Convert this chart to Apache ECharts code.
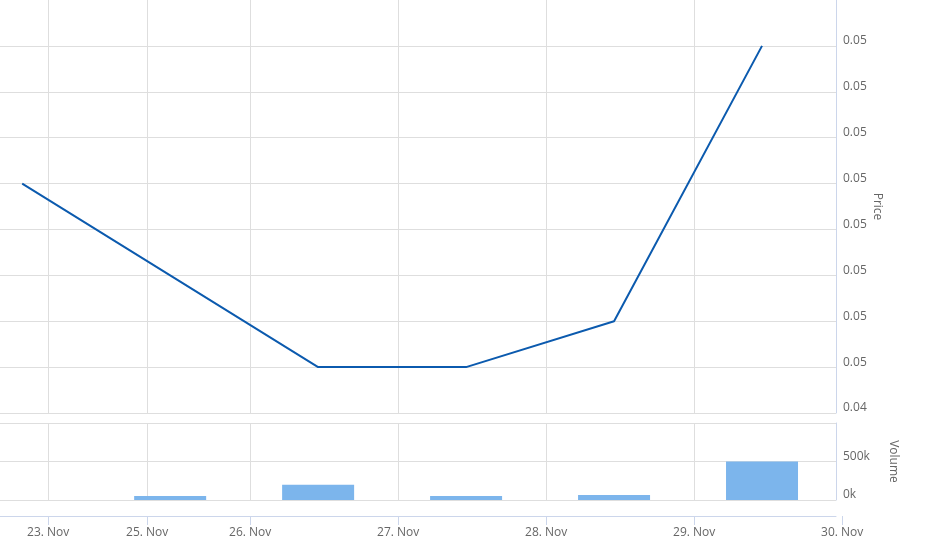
<!DOCTYPE html>
<html>
<head>
<meta charset="utf-8">
<script src="https://cdn.jsdelivr.net/npm/echarts@6/dist/echarts.min.js"></script>
<style>
html,body{margin:0;padding:0;background:#fff;}
#chart{width:928px;height:539px;}
</style>
</head>
<body>
<div id="chart"></div>
<script>
// Ordinal positions (trading-day index) of each data point
var pointIndex = [0, 1, 2, 3, 4, 5];
var priceValues = [0.047, 0.046, 0.045, 0.045, 0.0455, 0.0485];
var volumeValues = [0, 52000, 198000, 52000, 66000, 500000];
// Tick positions on the ordinal axis and their labels
var xTickValues = [0.1757, 0.8446, 1.5405, 2.5405, 3.5405, 4.5405, 5.5405];
var xTickLabels = ['23. Nov', '25. Nov', '26. Nov', '27. Nov', '28. Nov', '29. Nov', '30. Nov'];

var priceData = pointIndex.map(function (x, i) { return [x, priceValues[i]]; });
var volumeData = pointIndex.map(function (x, i) { return [x, volumeValues[i]]; });
var tickLabelMap = {};
xTickValues.forEach(function (v, i) { tickLabelMap[v] = xTickLabels[i]; });

var FONT = 'Open Sans';
var GRID_COLOR = '#dedede';
var AXIS_COLOR = '#ccd6eb';
var TEXT_COLOR = '#666666';
var X_MIN = -0.15, X_MAX = 5.5;

var chart = echarts.init(document.getElementById('chart'), null, {renderer: 'canvas'});
chart.setOption({
  animation: false,
  backgroundColor: '#ffffff',
  textStyle: {fontFamily: FONT},
  grid: [
    {left: 0, width: 836, top: 0, height: 413},
    {left: 0, width: 836, top: 423, height: 77},
    {left: 0, width: 851, top: 423, height: 77}
  ],
  xAxis: [
    {
      type: 'value', gridIndex: 0, min: X_MIN, max: X_MAX,
      axisLine: {show: false, onZero: false}, axisTick: {show: false, customValues: xTickValues},
      axisLabel: {show: false, customValues: xTickValues},
      splitLine: {show: true, lineStyle: {color: GRID_COLOR, width: 1}}
    },
    {
      type: 'value', gridIndex: 1, min: X_MIN, max: X_MAX, offset: 16, position: 'bottom',
      axisLine: {show: true, onZero: false, lineStyle: {color: AXIS_COLOR, width: 1}},
      axisTick: {show: false, customValues: xTickValues},
      axisLabel: {show: false, customValues: xTickValues},
      splitLine: {show: true, lineStyle: {color: GRID_COLOR, width: 1}}
    },
    {
      type: 'value', gridIndex: 2, min: X_MIN, max: 5.6, offset: 16, position: 'bottom',
      axisLine: {show: false, onZero: false},
      axisTick: {show: true, length: 9, customValues: xTickValues, lineStyle: {color: AXIS_COLOR, width: 1}},
      axisLabel: {
        show: true, customValues: xTickValues, margin: 11,
        color: TEXT_COLOR, fontFamily: FONT, fontSize: 12,
        formatter: function (v) { return tickLabelMap[v] || ''; }
      },
      splitLine: {show: false}
    }
  ],
  yAxis: [
    {
      type: 'value', gridIndex: 0, position: 'right',
      min: 0.0445, max: 0.049, interval: 0.0005,
      name: 'Price', nameLocation: 'middle', nameRotate: -90, nameGap: 35, nameMoveOverlap: false,
      nameTextStyle: {color: TEXT_COLOR, fontFamily: FONT, fontSize: 12},
      axisLine: {show: true, onZero: false, lineStyle: {color: AXIS_COLOR, width: 1}},
      axisTick: {show: false},
      axisLabel: {
        color: TEXT_COLOR, fontFamily: FONT, fontSize: 12, margin: 7,
        verticalAlign: 'bottom', showMaxLabel: false, padding: [0, 0, -1, 0],
        formatter: function (v) { return (Math.round(v * 100) / 100).toFixed(2); }
      },
      splitLine: {show: true, showMaxLine: false, lineStyle: {color: GRID_COLOR, width: 1}}
    },
    {
      type: 'value', gridIndex: 1, position: 'right',
      min: 0, max: 1000000, interval: 500000,
      name: 'Volume', nameLocation: 'middle', nameRotate: -90, nameGap: 51,
      nameTextStyle: {color: TEXT_COLOR, fontFamily: FONT, fontSize: 12},
      axisLine: {show: true, onZero: false, lineStyle: {color: AXIS_COLOR, width: 1}},
      axisTick: {show: false},
      axisLabel: {
        color: TEXT_COLOR, fontFamily: FONT, fontSize: 12, margin: 7,
        verticalAlign: 'bottom', showMaxLabel: false, padding: [0, 0, -1, 0],
        formatter: function (v) { return (v / 1000) + 'k'; }
      },
      splitLine: {show: true, lineStyle: {color: GRID_COLOR, width: 1}}
    },
    {
      type: 'value', gridIndex: 2, show: false, min: 0, max: 1
    }
  ],
  series: [
    {
      type: 'line', xAxisIndex: 0, yAxisIndex: 0, data: priceData,
      showSymbol: false, symbol: 'none',
      lineStyle: {color: '#0b5aae', width: 2},
      itemStyle: {color: '#0b5aae'}
    },
    {
      type: 'bar', xAxisIndex: 1, yAxisIndex: 1, data: volumeData,
      barWidth: 72, itemStyle: {color: '#7cb5ec'}
    }
  ]
});
</script>
</body>
</html>
